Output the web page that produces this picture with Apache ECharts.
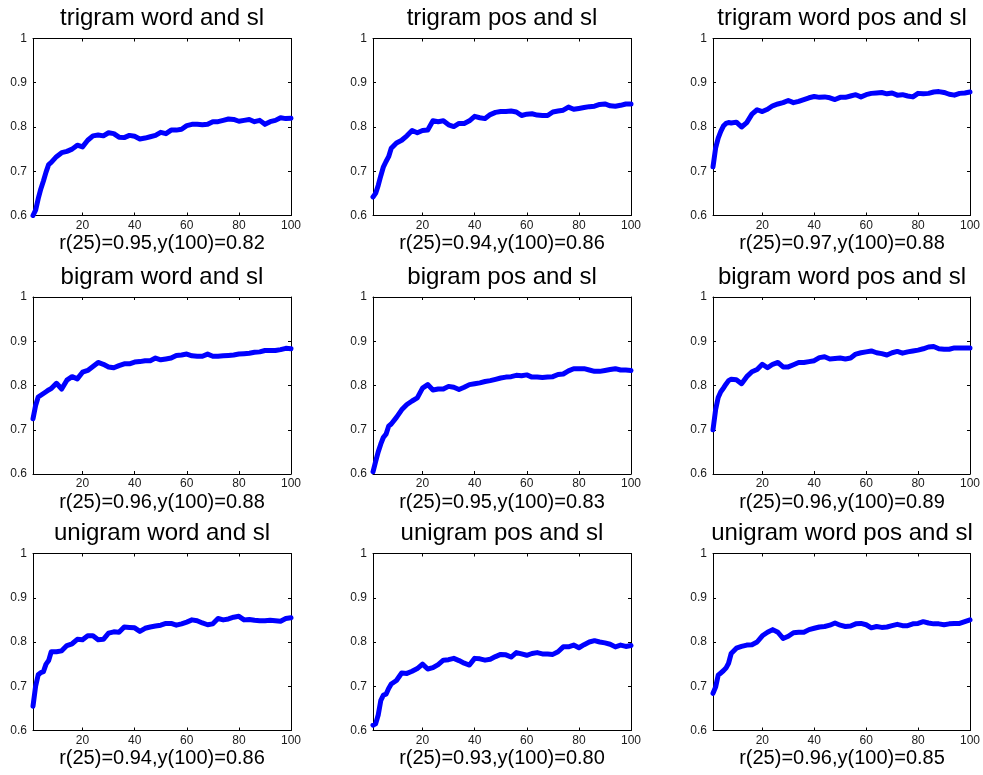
<!DOCTYPE html>
<html>
<head>
<meta charset="utf-8">
<script src="https://cdn.jsdelivr.net/npm/echarts@6/dist/echarts.min.js"></script>
<style>
html,body{margin:0;padding:0;background:#fff;}
#chart{width:983px;height:775px;}
</style>
</head>
<body>
<div id="chart"></div>
<script>
// ---- data ----
var xs = [1,2,3,4,5,6,7,8,10,12,14,16,18,20,22,24,26,28,30,32,34,36,38,40,42,44,46,48,50,52,54,56,58,60,62,64,66,68,70,72,74,76,78,80,82,84,86,88,90,92,94,96,98,100];

var titles = ["trigram word and sl","trigram pos and sl","trigram word pos and sl",
              "bigram word and sl","bigram pos and sl","bigram word pos and sl",
              "unigram word and sl","unigram pos and sl","unigram word pos and sl"];
var xlabels = ["r(25)=0.95,y(100)=0.82","r(25)=0.94,y(100)=0.86","r(25)=0.97,y(100)=0.88",
               "r(25)=0.96,y(100)=0.88","r(25)=0.95,y(100)=0.83","r(25)=0.96,y(100)=0.89",
               "r(25)=0.94,y(100)=0.86","r(25)=0.93,y(100)=0.80","r(25)=0.96,y(100)=0.85"];
var xTicks = [20,40,60,80,100];
var yTicks = [0.6,0.7,0.8,0.9,1];

var trigramWord = [0.6,0.612,0.638,0.66,0.678,0.698,0.715,0.72,0.733,0.742,0.745,0.75,0.759,0.755,0.77,0.78,0.782,0.78,0.787,0.785,0.777,0.776,0.781,0.779,0.773,0.775,0.778,0.781,0.788,0.785,0.793,0.793,0.795,0.803,0.806,0.806,0.805,0.806,0.812,0.812,0.815,0.818,0.817,0.813,0.815,0.817,0.812,0.815,0.806,0.812,0.815,0.821,0.819,0.82];
var trigramPos = [0.642,0.65,0.668,0.69,0.71,0.722,0.733,0.752,0.764,0.77,0.78,0.792,0.787,0.792,0.793,0.814,0.812,0.814,0.805,0.801,0.808,0.808,0.814,0.824,0.821,0.819,0.828,0.833,0.835,0.835,0.836,0.834,0.826,0.829,0.83,0.827,0.826,0.826,0.834,0.836,0.838,0.845,0.84,0.842,0.844,0.846,0.847,0.851,0.852,0.848,0.847,0.849,0.852,0.852];
var trigramWordPos = [0.71,0.752,0.775,0.79,0.802,0.808,0.81,0.809,0.811,0.8,0.81,0.829,0.839,0.835,0.84,0.848,0.852,0.855,0.86,0.855,0.858,0.862,0.866,0.869,0.867,0.868,0.866,0.862,0.867,0.867,0.87,0.873,0.868,0.873,0.876,0.877,0.878,0.875,0.877,0.872,0.873,0.87,0.868,0.876,0.875,0.876,0.879,0.88,0.878,0.874,0.872,0.876,0.877,0.879];
var bigramWord = [0.725,0.755,0.774,0.778,0.782,0.786,0.79,0.793,0.805,0.792,0.812,0.82,0.815,0.83,0.834,0.843,0.852,0.848,0.842,0.84,0.845,0.849,0.849,0.853,0.854,0.856,0.856,0.862,0.858,0.86,0.862,0.868,0.869,0.871,0.867,0.866,0.866,0.871,0.866,0.866,0.867,0.868,0.869,0.871,0.872,0.873,0.875,0.876,0.879,0.879,0.879,0.881,0.884,0.883];
var bigramPos = [0.605,0.628,0.65,0.668,0.683,0.69,0.708,0.713,0.728,0.745,0.757,0.765,0.772,0.794,0.802,0.79,0.792,0.792,0.798,0.796,0.791,0.796,0.802,0.804,0.806,0.809,0.811,0.814,0.817,0.819,0.82,0.823,0.822,0.824,0.819,0.819,0.818,0.819,0.82,0.825,0.826,0.833,0.838,0.838,0.838,0.835,0.832,0.832,0.834,0.836,0.838,0.835,0.835,0.834];
var bigramWordPos = [0.7,0.745,0.773,0.786,0.794,0.803,0.811,0.814,0.813,0.804,0.82,0.831,0.836,0.848,0.84,0.848,0.852,0.842,0.842,0.847,0.852,0.852,0.854,0.856,0.863,0.865,0.86,0.861,0.862,0.86,0.862,0.871,0.874,0.876,0.878,0.874,0.872,0.869,0.874,0.877,0.873,0.876,0.878,0.88,0.883,0.887,0.888,0.883,0.882,0.882,0.885,0.885,0.885,0.885];
var unigramWord = [0.655,0.7,0.726,0.731,0.733,0.75,0.758,0.778,0.778,0.78,0.792,0.796,0.806,0.805,0.814,0.814,0.805,0.806,0.82,0.823,0.822,0.834,0.833,0.832,0.824,0.831,0.834,0.836,0.838,0.842,0.842,0.838,0.841,0.845,0.85,0.848,0.843,0.839,0.841,0.853,0.85,0.852,0.856,0.858,0.85,0.851,0.849,0.848,0.848,0.849,0.848,0.847,0.853,0.855];
var unigramPos = [0.612,0.615,0.635,0.668,0.68,0.682,0.695,0.705,0.713,0.73,0.729,0.734,0.74,0.75,0.739,0.742,0.749,0.759,0.76,0.763,0.758,0.752,0.748,0.763,0.762,0.759,0.761,0.767,0.772,0.771,0.766,0.776,0.773,0.77,0.774,0.776,0.773,0.773,0.772,0.778,0.789,0.789,0.793,0.787,0.794,0.8,0.803,0.8,0.798,0.795,0.789,0.793,0.79,0.792];
var unigramWordPos = [0.684,0.698,0.725,0.73,0.735,0.741,0.752,0.774,0.786,0.79,0.793,0.794,0.8,0.814,0.822,0.828,0.822,0.808,0.813,0.821,0.822,0.822,0.828,0.831,0.834,0.835,0.838,0.843,0.838,0.835,0.836,0.841,0.842,0.839,0.832,0.835,0.833,0.834,0.837,0.84,0.837,0.837,0.841,0.842,0.846,0.843,0.841,0.841,0.839,0.841,0.842,0.842,0.846,0.85];

var seriesValues = [trigramWord, trigramPos, trigramWordPos, bigramWord, bigramPos, bigramWordPos, unigramWord, unigramPos, unigramWordPos];

// ---- layout ----
var colLeft = [33, 373, 713];
var rowTop = [38.5, 297, 553.5];
var gw = 258, gh = 177;
var FONT = "'Liberation Sans', Arial, Helvetica, sans-serif";

var grids = [], xAxes = [], yAxes = [], series = [], graphics = [];

for (var i = 0; i < 9; i++) {
  var r = Math.floor(i / 3), c = i % 3;
  grids.push({left: colLeft[c], top: rowTop[r], width: gw, height: gh, containLabel: false});
  xAxes.push({
    type: 'value', gridIndex: i, position: 'bottom', min: 1, max: 100,
    axisLine: {show: true, onZero: false, lineStyle: {color: '#000', width: 1}},
    axisTick: {show: true, inside: true, length: 3, customValues: xTicks, lineStyle: {color: '#000'}},
    axisLabel: {show: true, customValues: xTicks, margin: 4, fontSize: 12, color: '#1a1a1a', fontFamily: FONT},
    splitLine: {show: false}
  });
  xAxes.push({
    type: 'value', gridIndex: i, position: 'top', min: 1, max: 100,
    axisLine: {show: true, onZero: false, lineStyle: {color: '#000', width: 1}},
    axisTick: {show: true, inside: true, length: 3, customValues: xTicks, lineStyle: {color: '#000'}},
    axisLabel: {show: false},
    splitLine: {show: false}
  });
  yAxes.push({
    type: 'value', gridIndex: i, position: 'left', min: 0.6, max: 1, interval: 0.1,
    axisLine: {show: true, onZero: false, lineStyle: {color: '#000', width: 1}},
    axisTick: {show: true, inside: true, length: 3, lineStyle: {color: '#000'}},
    axisLabel: {show: true, margin: 6, fontSize: 12, color: '#1a1a1a', fontFamily: FONT},
    splitLine: {show: false}
  });
  yAxes.push({
    type: 'value', gridIndex: i, position: 'right', min: 0.6, max: 1, interval: 0.1,
    axisLine: {show: true, onZero: false, lineStyle: {color: '#000', width: 1}},
    axisTick: {show: true, inside: true, length: 3, lineStyle: {color: '#000'}},
    axisLabel: {show: false},
    splitLine: {show: false}
  });
  var vals = seriesValues[i];
  var data = [];
  for (var k = 0; k < xs.length; k++) data.push([xs[k], vals[k]]);
  series.push({
    type: 'line', xAxisIndex: 2 * i, yAxisIndex: 2 * i, data: data,
    showSymbol: false, symbol: 'none', smooth: false, clip: true,
    lineStyle: {color: '#0000ff', width: 5, join: 'round', cap: 'round'},
    z: 3
  });
  var cx = colLeft[c] + gw / 2;
  graphics.push({
    type: 'text', x: cx, y: rowTop[r] - 20,
    style: {text: titles[i], fontSize: 24, fontFamily: FONT, fill: '#000', align: 'center', verticalAlign: 'middle'}
  });
  graphics.push({
    type: 'text', x: cx, y: rowTop[r] + gh + 28,
    style: {text: xlabels[i], fontSize: 20, fontFamily: FONT, fill: '#000', align: 'center', verticalAlign: 'middle'}
  });
}

var chart = echarts.init(document.getElementById('chart'), null, {renderer: 'canvas'});
chart.setOption({
  animation: false,
  backgroundColor: '#fff',
  grid: grids,
  xAxis: xAxes,
  yAxis: yAxes,
  series: series,
  graphic: graphics
});
</script>
</body>
</html>
